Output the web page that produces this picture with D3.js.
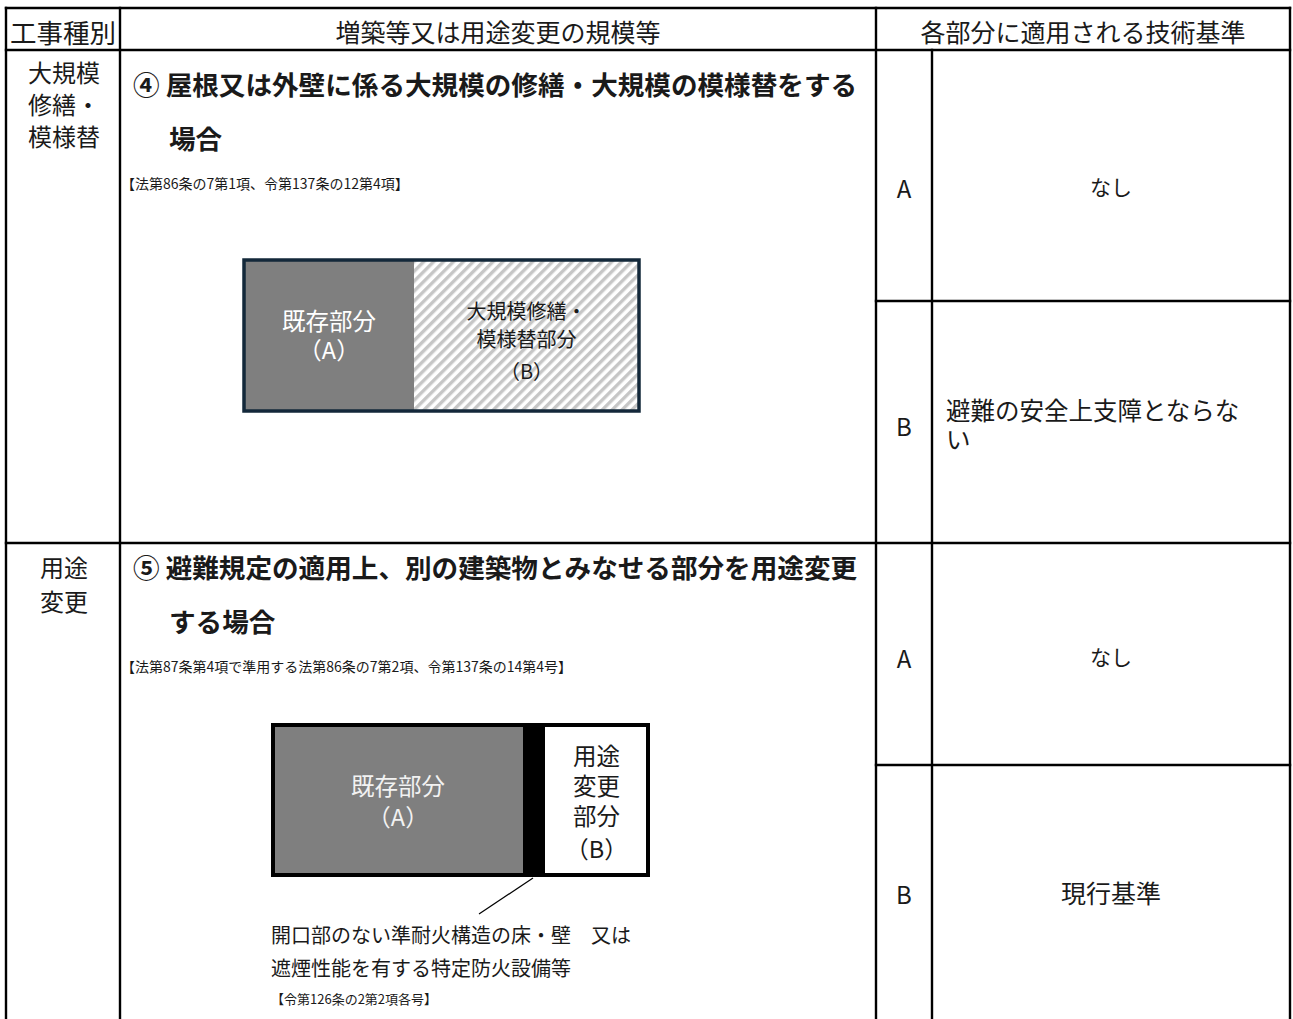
<!DOCTYPE html>
<html><head><meta charset="utf-8">
<script src="https://cdn.jsdelivr.net/npm/d3@7"></script>
<style>
html,body{margin:0;padding:0;background:#fff;}
svg{display:block;}
text{font-family:"Noto Sans CJK JP","Noto Sans",sans-serif;}
</style></head>
<body>
<svg id="c" width="1293" height="1019"></svg>
<script>
// ---- content ----
const headerLabels = ["工事種別", "増築等又は用途変更の規模等", "各部分に適用される技術基準"];
const workTypes = [["大規模", "修繕・", "模様替"], ["用途", "変更"]];
const titles = [
  ["④ 屋根又は外壁に係る大規模の修繕・大規模の模様替をする", "場合"],
  ["⑤ 避難規定の適用上、別の建築物とみなせる部分を用途変更", "する場合"]
];
const legalRefs = ["【法第86条の7第1項、令第137条の12第4項】", "【法第87条第4項で準用する法第86条の7第2項、令第137条の14第4号】"];
const parts = ["A", "B"];
const standards = [
  [["なし"], ["避難の安全上支障とならな", "い"]],
  [["なし"], ["現行基準"]]
];
const existingLabel = ["既存部分", "（A）"];
const repairLabel = ["大規模修繕・", "模様替部分", "（B）"];
const changeLabel = ["用途", "変更", "部分", "（B）"];
const wallNote = ["開口部のない準耐火構造の床・壁\u3000又は", "遮煙性能を有する特定防火設備等"];
const wallRef = "【令第126条の2第2項各号】";

// ---- layout ----
const colX = d3.scaleOrdinal().domain(["left", "c1", "c2", "c3", "right"]).range([6, 120, 876, 932, 1290]);
const rowY = d3.scaleOrdinal().domain(["top", "head", "sec2", "end"]).range([8, 50, 543, 1030]);
const splitY = [301, 765];

const svg = d3.select("#c");
const defs = svg.append("defs");
const g = svg.append("g");

// hatch pattern
const pat = defs.append("pattern").attr("id", "hatch").attr("patternUnits", "userSpaceOnUse")
  .attr("width", 7).attr("height", 7).attr("patternTransform", "rotate(45)");
pat.append("rect").attr("width", 7).attr("height", 7).attr("fill", "#ffffff");
pat.append("rect").attr("width", 3.4).attr("height", 7).attr("fill", "#c6c6c6");

// ---- table lines ----
const x0 = colX("left"), x1 = colX("c1"), x2 = colX("c2"), x3 = colX("c3"), x4 = colX("right");
const yTop = rowY("top"), yH = rowY("head"), yS1 = rowY("sec2"), yEnd = rowY("end");
const lines = [
  [x0, yTop, x4, yTop], [x0, yH, x4, yH], [x0, yS1, x4, yS1],
  [x2, splitY[0], x4, splitY[0]], [x2, splitY[1], x4, splitY[1]],
  [x0, yTop, x0, yEnd], [x1, yTop, x1, yEnd], [x2, yTop, x2, yEnd], [x4, yTop, x4, yEnd],
  [x3, yH, x3, yEnd]
];
g.selectAll("line.grid").data(lines).join("line").attr("class", "grid")
  .attr("x1", d => d[0]).attr("y1", d => d[1]).attr("x2", d => d[2]).attr("y2", d => d[3])
  .attr("stroke", "#000").attr("stroke-width", 2.4).attr("stroke-linecap", "square");

function txt(x, y, s, size, opts = {}) {
  return g.append("text").attr("x", x).attr("y", y).text(s)
    .attr("font-size", size).attr("dominant-baseline", "central")
    .attr("text-anchor", opts.anchor || "middle")
    .attr("font-weight", opts.weight || 400)
    .attr("fill", opts.fill || "#1a1a1a");
}

// header
const headerCx = [(x0 + x1) / 2, (x1 + x2) / 2, (x2 + x4) / 2];
headerLabels.forEach((s, i) => txt(headerCx[i], 31, s, i === 0 ? 26.5 : 25));

// work types
const wtY = [[71, 103, 135], [566, 600]];
workTypes.forEach((arr, i) => arr.forEach((s, j) => txt((x0 + x1) / 2 + 1, wtY[i][j], s, 24)));

// titles
const titleY = [[83, 137], [566, 620]];
titles.forEach((arr, i) => {
  txt(133, titleY[i][0], arr[0], 26.6, { anchor: "start", weight: 700 });
  txt(169, titleY[i][1], arr[1], 26.6, { anchor: "start", weight: 700 });
});
const refY = [183, 666];
legalRefs.forEach((s, i) => txt(121, refY[i], s, 14, { anchor: "start" }));

// parts & standards
const partY = [[187, 425], [657, 893]];
parts.forEach((p, j) => [0, 1].forEach(i => txt((x2 + x3) / 2, partY[i][j], p, 24)));
const stdCx = (x3 + x4) / 2;
standards.forEach((sec, i) => sec.forEach((lns, j) => {
  if (lns.length > 1) {
    lns.forEach((s, k) => txt(946, partY[i][j] - 16 + k * 29, s, 24.5, { anchor: "start" }));
  } else {
    txt(stdCx, partY[i][j] - 1, lns[0], j === 0 ? 21 : 25);
  }
}));

// ---- diagram 1 ----
const d1 = { x: 244, y: 260, w: 395, h: 151, split: 414 };
g.append("rect").attr("x", d1.x).attr("y", d1.y).attr("width", d1.split - d1.x).attr("height", d1.h).attr("fill", "#7f7f7f");
g.append("rect").attr("x", d1.split).attr("y", d1.y).attr("width", d1.x + d1.w - d1.split).attr("height", d1.h).attr("fill", "url(#hatch)");
g.append("rect").attr("x", d1.x).attr("y", d1.y).attr("width", d1.w).attr("height", d1.h)
  .attr("fill", "none").attr("stroke", "#13283a").attr("stroke-width", 3.5);
const ex1Y = [320, 349];
existingLabel.forEach((s, k) => txt((d1.x + d1.split) / 2, ex1Y[k], s, 23.5, { fill: "#ffffff" }));
const rpY = [310, 338, 370];
repairLabel.forEach((s, k) => txt((d1.split + d1.x + d1.w) / 2, rpY[k], s, 20, { fill: "#1a1a1a" }));

// ---- diagram 2 ----
const d2 = { x: 273, y: 725, w: 375, h: 150, bandL: 523, bandR: 545 };
g.append("rect").attr("x", d2.x).attr("y", d2.y).attr("width", d2.bandL - d2.x).attr("height", d2.h).attr("fill", "#7f7f7f");
g.append("rect").attr("x", d2.bandL).attr("y", d2.y).attr("width", d2.bandR - d2.bandL).attr("height", d2.h).attr("fill", "#000");
g.append("rect").attr("x", d2.bandR).attr("y", d2.y).attr("width", d2.x + d2.w - d2.bandR).attr("height", d2.h).attr("fill", "#fff");
g.append("rect").attr("x", d2.x).attr("y", d2.y).attr("width", d2.w).attr("height", d2.h)
  .attr("fill", "none").attr("stroke", "#000").attr("stroke-width", 4);
const ex2Y = [785, 816];
existingLabel.forEach((s, k) => txt((d2.x + d2.bandL) / 2, ex2Y[k], s, 23.5, { fill: "#f2f2f2" }));
const chY = [755, 785, 815, 848];
changeLabel.forEach((s, k) => txt((d2.bandR + d2.x + d2.w) / 2, chY[k], s, 23.5));
g.append("line").attr("x1", 533).attr("y1", 878).attr("x2", 479).attr("y2", 914)
  .attr("stroke", "#000").attr("stroke-width", 1.2);
const noteY = [934, 967];
wallNote.forEach((s, k) => txt(271, noteY[k], s, 20, { anchor: "start" }));
txt(271, 998, wallRef, 13, { anchor: "start" });
</script>
</body></html>
